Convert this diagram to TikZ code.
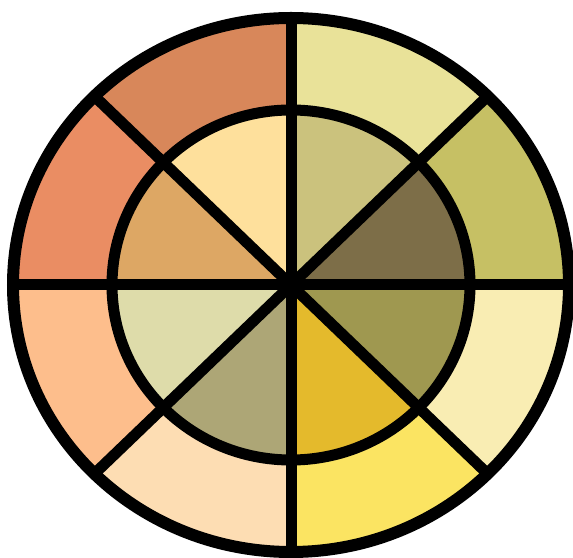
\documentclass[tikz,border=0pt]{standalone}
\usepackage{xcolor}
\usepackage{tikz}
\usetikzlibrary{calc}

% outer ring colours, counter-clockwise from the right
\definecolor{outA}{HTML}{C6C064}
\definecolor{outB}{HTML}{E9E299}
\definecolor{outC}{HTML}{D8875A}
\definecolor{outD}{HTML}{EA8D63}
\definecolor{outE}{HTML}{FDBE8C}
\definecolor{outF}{HTML}{FDDDB3}
\definecolor{outG}{HTML}{FBE462}
\definecolor{outH}{HTML}{F9EDB3}
% inner disc colours
\definecolor{inA}{HTML}{7D6E48}
\definecolor{inB}{HTML}{CBC27D}
\definecolor{inC}{HTML}{FEE09C}
\definecolor{inD}{HTML}{DDA764}
\definecolor{inE}{HTML}{DEDCAA}
\definecolor{inF}{HTML}{ADA676}
\definecolor{inG}{HTML}{E4BA2C}
\definecolor{inH}{HTML}{9F9850}

\begin{document}
\begin{tikzpicture}[
    x=0.5pt, y=0.5pt,
    rim/.style={draw=black, line width=6pt},
    spoke/.style={draw=black, line width=5.5pt, line cap=round}
]
    \useasboundingbox (0,0) rectangle (573,557);
    \coordinate (c) at (291,272);

    % Outer ring
    \foreach \a/\col in {0/outA,45/outB,90/outC,135/outD,180/outE,225/outF,270/outG,315/outH}{
        \fill[\col] ($(c)+(\a:278 and 267)$) arc[start angle=\a, delta angle=45, x radius=278, y radius=267]
            -- ($(c)+(\a+45:179 and 175)$) arc[start angle=\a+45, delta angle=-45, x radius=179, y radius=175] -- cycle;
    }

    % Inner disc
    \foreach \a/\col in {0/inA,45/inB,90/inC,135/inD,180/inE,225/inF,270/inG,315/inH}{
        \fill[\col] (c) -- ($(c)+(\a:179 and 175)$) arc[start angle=\a, delta angle=45, x radius=179, y radius=175] -- cycle;
    }

    % Outlines
    \draw[rim] (c) ellipse[x radius=278, y radius=267];
    \draw[rim, line width=5.5pt] (c) ellipse[x radius=179, y radius=175];
    \foreach \a in {0,45,...,315}
        \draw[spoke] (c) -- ($(c)+(\a:278 and 267)$);

\end{tikzpicture}
\end{document}
